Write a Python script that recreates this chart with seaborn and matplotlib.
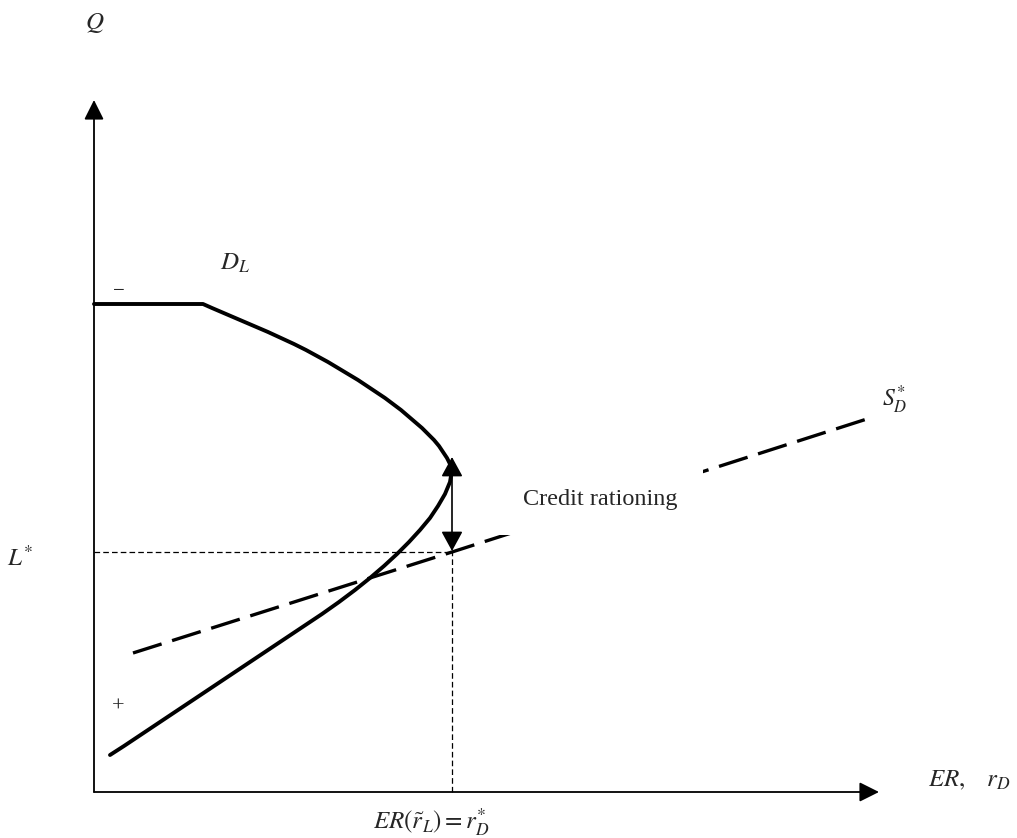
import numpy as np
import pandas as pd
import matplotlib
matplotlib.use('Agg')
import matplotlib.pyplot as plt
import seaborn as sns

# loan demand curve D_L (x = expected return, y = quantity)
dl_x = [0, 109, 118, 132, 146, 160, 174, 187, 200, 212, 223, 234, 244, 254, 264,
        273, 282, 291, 299, 307, 314, 321, 328, 334, 340, 345, 349, 353, 356, 358,
        356, 351, 344, 336, 326, 315, 303, 290, 276, 261, 245, 228, 210, 192, 174,
        156, 138, 120, 102, 84, 66, 48, 30, 16]
dl_y = [488, 488, 484, 478, 472, 466, 460, 454, 448, 442, 436, 430, 424, 418, 412,
        406, 400, 394, 388, 382, 376, 370, 364, 358, 352, 346, 340, 334, 328, 322,
        310, 298, 286, 274, 262, 250, 238, 226, 214, 202, 190, 178, 166, 154, 142,
        130, 118, 106, 94, 82, 70, 58, 46, 37]

# deposit supply line S_D*
sd_x = [39, 358, 776]
sd_y = [139, 240, 374]

# equilibrium point (r_D*, L*) and top of the rationing gap
eq_x, eq_y = 358, 240
gap_top = 335

# axis extents
x_end, y_end = 785, 692

sns.set_theme(style='white')
plt.rcParams['mathtext.fontset'] = 'stix'
plt.rcParams['font.family'] = ['Liberation Serif', 'DejaVu Serif']

fig = plt.figure(figsize=(10.17, 8.38), dpi=100)
ax = fig.add_axes([0, 0, 1, 1])
ax.set_xlim(-94, 923)
ax.set_ylim(-46, 792)
ax.axis('off')

# axes with arrow heads
axis_arrow = dict(arrowstyle='-|>,head_length=0.6,head_width=0.3', color='black',
                  lw=1.3, shrinkA=0, shrinkB=0, mutation_scale=20)
ax.annotate('', xy=(0, y_end), xytext=(0, 0), arrowprops=axis_arrow)
ax.annotate('', xy=(x_end, 0), xytext=(0, 0), arrowprops=axis_arrow)

# demand curve
dl = pd.DataFrame({'x': dl_x, 'y': dl_y})
sns.lineplot(data=dl, x='x', y='y', sort=False, estimator=None, color='black',
             lw=2.8, ax=ax, legend=False)
ax.lines[-1].set_solid_joinstyle('round')

# supply line (long dashes)
sd = pd.DataFrame({'x': sd_x, 'y': sd_y})
sns.lineplot(data=sd, x='x', y='y', sort=False, estimator=None, color='black',
             lw=2.4, dashes=False, ax=ax, legend=False)
ax.lines[-1].set_dashes((9, 3.3))

# dotted guides
ax.plot([0, eq_x], [eq_y, eq_y], color='black', lw=0.9, dashes=(4.5, 2.5))
ax.plot([eq_x, eq_x], [0, eq_y], color='black', lw=0.9, dashes=(4.5, 2.5))

# credit rationing double arrow
ax.annotate('', xy=(eq_x, gap_top), xytext=(eq_x, eq_y + 1),
            arrowprops=dict(arrowstyle='<|-|>,head_length=0.55,head_width=0.3',
                            color='black', lw=1.2, shrinkA=0, shrinkB=0,
                            mutation_scale=22))

ax.text(429, 293, 'Credit rationing', fontsize=17.5, ha='left', va='center',
        bbox=dict(facecolor='white', edgecolor='none', pad=18), zorder=5)

ax.text(1, 769, r'$Q$', fontsize=18, ha='center', va='center')
ax.text(141, 529, r'$D_L$', fontsize=18, ha='center', va='center')
ax.text(801, 392, r'$S_D^{*}$', fontsize=17, ha='center', va='center')
ax.text(-74, 234, r'$L^{*}$', fontsize=18, ha='center', va='center')
ax.text(25, 500, '\u2212', fontsize=15, ha='center', va='center')
ax.text(24, 85, '+', fontsize=16, ha='center', va='center')
ax.text(337, -30, r'$ER(\tilde{r}_L) = r_D^{*}$', fontsize=18, ha='center', va='center')
ax.text(834, 12, r'$ER,\ \ \ r_D$', fontsize=18, ha='left', va='center')

fig.savefig('out.png', dpi=100)
